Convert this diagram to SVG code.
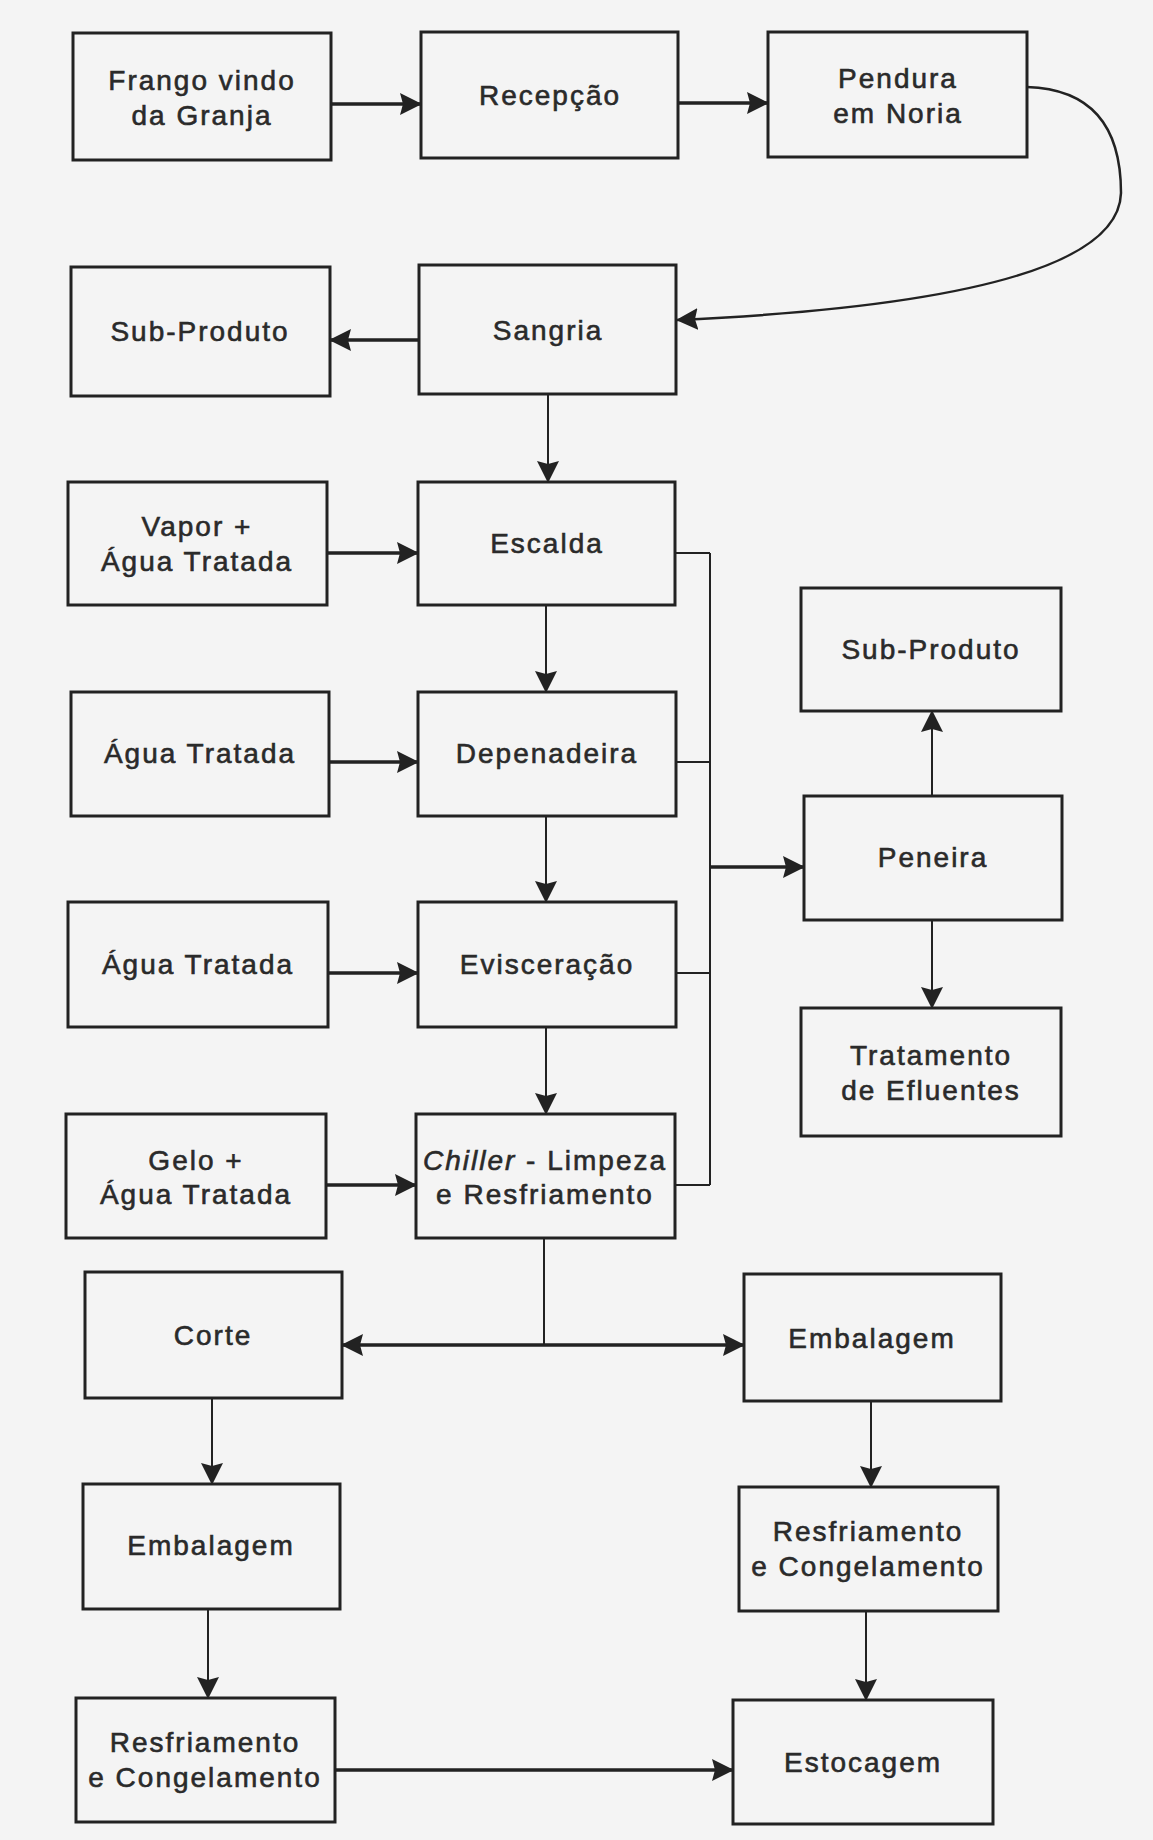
<svg xmlns="http://www.w3.org/2000/svg" width="1153" height="1840" viewBox="0 0 1153 1840">
<defs>
<marker id="ah" viewBox="0 0 22 22" markerWidth="22" markerHeight="22" refX="21" refY="11" orient="auto-start-reverse" markerUnits="userSpaceOnUse">
<path d="M0,0 L22,11 L0,22 L3,11 Z" fill="#222"/>
</marker>
</defs>
<style>
.box{fill:none;stroke:#222;stroke-width:3}
.t{font-family:"Liberation Sans",Arial,Helvetica,sans-serif;font-size:28px;fill:#2a2a2a;stroke:#2a2a2a;stroke-width:0.6;text-anchor:middle;letter-spacing:2px}
.thick{fill:none;stroke:#222;stroke-width:3.5}
.thin{fill:none;stroke:#222;stroke-width:2}
.arr{marker-end:url(#ah)}
</style>
<rect x="0" y="0" width="1153" height="1840" fill="#f4f4f4"/>

<g id="frango"><rect class="box" x="73" y="33" width="258" height="127"/><text class="t" x="202" y="90">Frango vindo</text><text class="t" x="202" y="125">da Granja</text></g>
<g id="recepcao"><rect class="box" x="421" y="32" width="257" height="126"/><text class="t" x="550" y="105">Recepção</text></g>
<g id="pendura"><rect class="box" x="768" y="32" width="259" height="125"/><text class="t" x="898" y="88">Pendura</text><text class="t" x="898" y="123">em Noria</text></g>
<g id="subproduto1"><rect class="box" x="71" y="267" width="259" height="129"/><text class="t" x="200" y="341">Sub-Produto</text></g>
<g id="sangria"><rect class="box" x="419" y="265" width="257" height="129"/><text class="t" x="548" y="340">Sangria</text></g>
<g id="vapor"><rect class="box" x="68" y="482" width="259" height="123"/><text class="t" x="197" y="536">Vapor +</text><text class="t" x="197" y="571">Água Tratada</text></g>
<g id="escalda"><rect class="box" x="418" y="482" width="257" height="123"/><text class="t" x="547" y="553">Escalda</text></g>
<g id="subproduto2"><rect class="box" x="801" y="588" width="260" height="123"/><text class="t" x="931" y="659">Sub-Produto</text></g>
<g id="agua1"><rect class="box" x="71" y="692" width="258" height="124"/><text class="t" x="200" y="763">Água Tratada</text></g>
<g id="depenadeira"><rect class="box" x="418" y="692" width="258" height="124"/><text class="t" x="547" y="763">Depenadeira</text></g>
<g id="peneira"><rect class="box" x="804" y="796" width="258" height="124"/><text class="t" x="933" y="867">Peneira</text></g>
<g id="agua2"><rect class="box" x="68" y="902" width="260" height="125"/><text class="t" x="198" y="974">Água Tratada</text></g>
<g id="evisceracao"><rect class="box" x="418" y="902" width="258" height="125"/><text class="t" x="547" y="974">Evisceração</text></g>
<g id="tratamento"><rect class="box" x="801" y="1008" width="260" height="128"/><text class="t" x="931" y="1065">Tratamento</text><text class="t" x="931" y="1100">de Efluentes</text></g>
<g id="gelo"><rect class="box" x="66" y="1114" width="260" height="124"/><text class="t" x="196" y="1170">Gelo +</text><text class="t" x="196" y="1204">Água Tratada</text></g>
<g id="chiller"><rect class="box" x="416" y="1114" width="259" height="124"/><text class="t" x="545" y="1170"><tspan font-style="italic">Chiller</tspan> - Limpeza</text><text class="t" x="545" y="1204">e Resfriamento</text></g>
<g id="corte"><rect class="box" x="85" y="1272" width="257" height="126"/><text class="t" x="213" y="1345">Corte</text></g>
<g id="embalagem1"><rect class="box" x="744" y="1274" width="257" height="127"/><text class="t" x="872" y="1348">Embalagem</text></g>
<g id="embalagem2"><rect class="box" x="83" y="1484" width="257" height="125"/><text class="t" x="211" y="1555">Embalagem</text></g>
<g id="resfr1"><rect class="box" x="739" y="1487" width="259" height="124"/><text class="t" x="868" y="1541">Resfriamento</text><text class="t" x="868" y="1576">e Congelamento</text></g>
<g id="resfr2"><rect class="box" x="76" y="1698" width="259" height="124"/><text class="t" x="205" y="1752">Resfriamento</text><text class="t" x="205" y="1787">e Congelamento</text></g>
<g id="estocagem"><rect class="box" x="733" y="1700" width="260" height="124"/><text class="t" x="863" y="1772">Estocagem</text></g>

<g id="connectors">
<path class="thick arr" d="M331,104 H421"/>
<path class="thick arr" d="M678,103 H768"/>
<path class="thin arr" style="stroke-width:2.5" d="M1027,87 Q1121,90 1121,193 Q1118,300 677,320"/>
<path class="thick arr" d="M419,340 H330"/>
<path class="thin arr" d="M548,394 V482"/>
<path class="thick arr" d="M327,553 H418"/>
<path class="thin arr" d="M546,605 V692"/>
<path class="thick arr" d="M329,762 H418"/>
<path class="thin arr" d="M546,816 V902"/>
<path class="thick arr" d="M328,973 H418"/>
<path class="thin arr" d="M546,1027 V1114"/>
<path class="thick arr" d="M326,1185 H416"/>
<path class="thin" d="M675,553 H710 M676,762 H710 M676,973 H710 M675,1185 H710 M710,553 V1185"/>
<path class="thick arr" d="M710,867 H804"/>
<path class="thin arr" d="M932,796 V711"/>
<path class="thin arr" d="M932,920 V1008"/>
<path class="thin" d="M544,1238 V1345"/>
<path class="thick arr" style="marker-start:url(#ah)" d="M342,1345 H744"/>
<path class="thin arr" d="M212,1398 V1484"/>
<path class="thin arr" d="M871,1401 V1487"/>
<path class="thin arr" d="M208,1609 V1698"/>
<path class="thin arr" d="M866,1611 V1700"/>
<path class="thick arr" d="M335,1770 H733"/>
</g>
</svg>
